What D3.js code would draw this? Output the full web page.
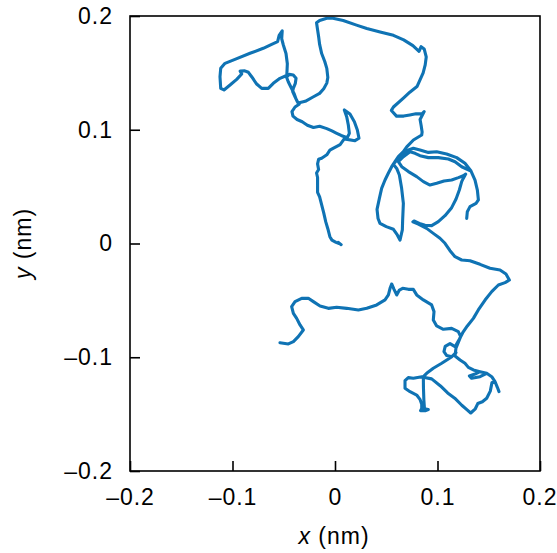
<!DOCTYPE html>
<html><head><meta charset="utf-8">
<script src="https://cdn.jsdelivr.net/npm/d3@7"></script>
<style>
html,body{margin:0;padding:0;background:#fff;}
svg{display:block;}
text{font-family:"Liberation Sans",Arial,Helvetica,sans-serif;fill:#000;}
</style></head>
<body>
<svg id="chart" width="557" height="553"></svg>
<script>
// tick values
const xTicks = [-0.2, -0.1, 0, 0.1, 0.2];
const yTicks = [-0.2, -0.1, 0, 0.1, 0.2];
const xDomain = [-0.2, 0.2];
const yDomain = [-0.2, 0.2];

// trajectory (x, y in nm), in order
const segOrigin = [[0.006,-0.001],[0.003,0.001],[0.004,0.000],[0.001,0.001],[-0.003,0.003],[-0.005,0.006],[-0.007,0.013],[-0.009,0.019],[-0.011,0.027],[-0.013,0.034],[-0.015,0.041],[-0.017,0.045],[-0.017,0.051],[-0.017,0.058],[-0.018,0.062],[-0.016,0.065],[-0.017,0.070],[-0.016,0.074],[-0.013,0.075],[-0.008,0.078],[-0.005,0.082],[-0.001,0.084],[0.005,0.087],[0.009,0.092]];
const segThinLoop = [[0.0195,0.0904],[0.0234,0.0925],[0.0218,0.0998],[0.0189,0.1071],[0.0146,0.1138],[0.0091,0.1174],[0.0114,0.1115],[0.013,0.1042],[0.014,0.0969],[0.012,0.093],[0.006,0.095]];
const segToJunction = [[0.0017,0.0969],[-0.003,0.099],[-0.008,0.101],[-0.015,0.103],[-0.021,0.102],[-0.027,0.104],[-0.032,0.107],[-0.037,0.109],[-0.041,0.112],[-0.042,0.116],[-0.039,0.120],[-0.035,0.1224]];
const segUpperLeft = [[-0.0368,0.1247],[-0.039,0.129],[-0.0413,0.1335],[-0.0407,0.1364],[-0.0387,0.1408],[-0.038,0.1452],[-0.0407,0.1481],[-0.0446,0.1487],[-0.0471,0.1466],[-0.0468,0.152],[-0.0465,0.158],[-0.0478,0.167],[-0.0504,0.1745],[-0.052,0.180],[-0.0515,0.187],[-0.0545,0.183],[-0.056,0.1775],[-0.0618,0.1751],[-0.070,0.1716],[-0.0829,0.1672],[-0.0976,0.1619],[-0.1073,0.1584],[-0.1115,0.154],[-0.1122,0.1466],[-0.1115,0.1364],[-0.1083,0.135],[-0.1024,0.1393],[-0.0959,0.1443],[-0.091,0.149],[-0.0925,0.1515],[-0.088,0.1518],[-0.0845,0.1505],[-0.0813,0.1466],[-0.0764,0.1402],[-0.0715,0.1364],[-0.0651,0.1364],[-0.0602,0.1408],[-0.0537,0.1452],[-0.0478,0.1475],[-0.0456,0.1422],[-0.0432,0.1378],[-0.040,0.132],[-0.038,0.127],[-0.036,0.1235]];
const segTopLoop = [[-0.029,0.125],[-0.021,0.129],[-0.015,0.132],[-0.011,0.136],[-0.008,0.141],[-0.007,0.146],[-0.008,0.154],[-0.010,0.160],[-0.013,0.167],[-0.015,0.175],[-0.016,0.182],[-0.017,0.188],[-0.018,0.194],[-0.015,0.196],[-0.008,0.198],[-0.002,0.198],[0.008,0.196],[0.021,0.192],[0.031,0.189],[0.044,0.186],[0.057,0.183],[0.067,0.179],[0.076,0.174],[0.082,0.169],[0.084,0.173],[0.087,0.171],[0.089,0.164],[0.088,0.157],[0.086,0.150],[0.080,0.138],[0.073,0.133],[0.067,0.128],[0.057,0.120],[0.055,0.117],[0.060,0.112],[0.067,0.112],[0.073,0.113],[0.079,0.114],[0.085,0.114],[0.087,0.116],[0.083,0.109],[0.084,0.104],[0.085,0.098],[0.0846,0.0954],[0.0765,0.091],[0.070,0.085],[0.0667,0.0807],[0.0618,0.0763],[0.0585,0.0719],[0.0553,0.0675]];
const segLeftOval = [[0.052,0.0617],[0.0488,0.0558],[0.0455,0.0485],[0.0433,0.0397],[0.041,0.030],[0.042,0.022],[0.0439,0.0177],[0.050,0.0148],[0.057,0.0125],[0.0608,0.0075],[0.0634,0.003],[0.0657,0.0119],[0.066,0.0207],[0.0667,0.0353],[0.065,0.0485],[0.0628,0.0602],[0.0602,0.066],[0.0569,0.0696]];
const segRightArcs = [[0.0618,0.0749],[0.0667,0.0793],[0.0716,0.0822],[0.0764,0.0837],[0.0829,0.0822],[0.0911,0.0801],[0.0992,0.0807],[0.1089,0.0787],[0.1187,0.0755],[0.1268,0.0705],[0.1327,0.0637],[0.1366,0.0558],[0.1389,0.047],[0.1399,0.0383],[0.1376,0.0353],[0.1317,0.0324],[0.1291,0.028],[0.1285,0.0221],[0.1291,0.028],[0.1317,0.0324],[0.1376,0.0353],[0.1399,0.0383],[0.1389,0.047],[0.1366,0.0558],[0.1327,0.0637],[0.1236,0.0675],[0.1171,0.0719],[0.1106,0.0743],[0.1008,0.0755],[0.0911,0.0755],[0.0829,0.0772],[0.0781,0.0793],[0.0732,0.0807],[0.0667,0.0763],[0.0618,0.072]];
const segMiddle = [[0.0651,0.0675],[0.0716,0.0632],[0.0797,0.0588],[0.0862,0.0544],[0.0927,0.0514],[0.0992,0.0529],[0.1064,0.0549],[0.1138,0.0558],[0.1204,0.0579],[0.1252,0.0596],[0.1275,0.061],[0.1250,0.057],[0.1236,0.0544],[0.1213,0.047],[0.1181,0.0391],[0.1138,0.0315],[0.1073,0.0245],[0.1008,0.0192],[0.0943,0.0157],[0.0878,0.0160],[0.0823,0.0177],[0.0771,0.0198],[0.0760,0.019],[0.0813,0.0171],[0.0894,0.0133],[0.0959,0.0089],[0.1024,0.0046],[0.1073,0.0002],[0.1122,-0.0063],[0.1171,-0.0116],[0.1236,-0.0145],[0.1317,-0.0151],[0.1415,-0.0183],[0.1512,-0.0218],[0.161,-0.0233],[0.1668,-0.0268],[0.1701,-0.0321],[0.1659,-0.0344],[0.1594,-0.0365],[0.1529,-0.0423],[0.1464,-0.0497],[0.1398,-0.0584],[0.135,-0.0658],[0.1291,-0.0725],[0.1246,-0.0784]];
const segLowerCluster = [[0.1213,-0.0842],[0.1171,-0.0907],[0.1122,-0.0880],[0.1075,-0.0905],[0.1063,-0.0950],[0.1090,-0.0985],[0.1140,-0.0995],[0.1180,-0.0960],[0.1140,-0.0995],[0.1041,-0.1053],[0.0959,-0.1097],[0.0894,-0.1141],[0.0862,-0.117],[0.0764,-0.1185],[0.0715,-0.1179],[0.0683,-0.1206],[0.0683,-0.1273],[0.0732,-0.1303],[0.0797,-0.1332],[0.0829,-0.137],[0.0846,-0.1414],[0.0846,-0.1449],[0.0835,-0.1470],[0.0880,-0.1470],[0.0910,-0.1460],[0.0873,-0.1453],[0.0867,-0.1376],[0.0863,-0.1268],[0.0862,-0.1175],[0.0943,-0.119],[0.1029,-0.1252],[0.1099,-0.1314],[0.1168,-0.136],[0.1237,-0.1422],[0.1289,-0.1463],[0.1324,-0.149],[0.1369,-0.1453],[0.1393,-0.1407],[0.1438,-0.1391],[0.148,-0.136],[0.1515,-0.1298],[0.1532,-0.1221],[0.1561,-0.1215],[0.1584,-0.1264],[0.160,-0.1302],[0.1584,-0.1264],[0.1561,-0.1215],[0.1529,-0.1171],[0.148,-0.1141],[0.1415,-0.1127],[0.1366,-0.1147],[0.1311,-0.1165],[0.1333,-0.1185],[0.1415,-0.1171],[0.148,-0.1141],[0.1415,-0.1127],[0.135,-0.1112],[0.1301,-0.1089],[0.1268,-0.1053],[0.122,-0.1024],[0.1171,-0.0989],[0.1180,-0.0920],[0.1226,-0.0819]];
const segLowerLine = [[0.1203,-0.0775],[0.1138,-0.0746],[0.1057,-0.0754],[0.0992,-0.0725],[0.0959,-0.0672],[0.0966,-0.0599],[0.0943,-0.054],[0.0862,-0.0496],[0.0797,-0.0452],[0.0764,-0.0403],[0.0716,-0.0403],[0.066,-0.0394],[0.0628,-0.0409],[0.0602,-0.0452],[0.0576,-0.0403],[0.0553,-0.0356],[0.0537,-0.0394],[0.0521,-0.0452],[0.0488,-0.0496],[0.0407,-0.054],[0.031,-0.057],[0.0228,-0.0584],[0.0114,-0.057],[0.0016,-0.0561],[-0.0065,-0.057],[-0.0146,-0.055],[-0.0211,-0.0511],[-0.026,-0.0482],[-0.0325,-0.0482],[-0.039,-0.0511],[-0.0423,-0.0555],[-0.0406,-0.0614],[-0.0374,-0.0658],[-0.0341,-0.0716],[-0.0309,-0.076],[-0.0358,-0.0819],[-0.0406,-0.0863],[-0.0455,-0.0883],[-0.0537,-0.0872]];

const trajectory = [].concat(segOrigin, segThinLoop, segToJunction, segUpperLeft, segTopLoop,
  segLeftOval, segRightArcs, segMiddle, segLowerCluster, segLowerLine);

const svg = d3.select("#chart");
const plot = {left:130, right:540, top:16, bottom:471};

const x = d3.scaleLinear().domain(xDomain).range([plot.left, plot.right]);
const y = d3.scaleLinear().domain(yDomain).range([plot.bottom, plot.top]);

const fmt = d => d < 0 ? "\u2013" + Math.abs(d) : (d === 0 ? "0" : String(d));

// trajectory line
const line = d3.line().x(d => x(d[0])).y(d => y(d[1]));
svg.append("path")
  .datum(trajectory)
  .attr("d", line)
  .attr("fill", "none")
  .attr("stroke", "#0f73b4")
  .attr("stroke-width", 3.1)
  .attr("stroke-linejoin", "round")
  .attr("stroke-linecap", "round");

// axes
const xAxis = svg.append("g")
  .attr("transform", `translate(0,${plot.bottom})`)
  .call(d3.axisBottom(x).tickValues(xTicks).tickFormat(fmt).tickSizeInner(-10).tickSizeOuter(0).tickPadding(18));
const yAxis = svg.append("g")
  .attr("transform", `translate(${plot.left},0)`)
  .call(d3.axisLeft(y).tickValues(yTicks).tickFormat(fmt).tickSizeInner(-10).tickSizeOuter(0).tickPadding(17));

[xAxis, yAxis].forEach(g => {
  g.select(".domain").remove();
  g.selectAll(".tick line").attr("stroke", "#000").attr("stroke-width", 1.6);
  g.selectAll(".tick text")
    .style("font-family", "'Liberation Sans', Arial, sans-serif")
    .style("font-size", "23px")
    .style("letter-spacing", "1px")
    .attr("fill", "#000");
});
// last x label sits flush with the right edge, as in the reference
xAxis.selectAll(".tick text").filter(d => d === 0.2).attr("text-anchor", "end").attr("x", 17);

// frame
svg.append("rect")
  .attr("x", plot.left).attr("y", plot.top)
  .attr("width", plot.right - plot.left).attr("height", plot.bottom - plot.top)
  .attr("fill", "none").attr("stroke", "#000").attr("stroke-width", 1.6);

// axis titles
const xt = svg.append("text")
  .attr("x", 334).attr("y", 544)
  .attr("text-anchor", "middle")
  .style("font-size", "23px").style("letter-spacing", "1px");
xt.append("tspan").style("font-style", "italic").text("x");
xt.append("tspan").text(" (nm)");

const yt = svg.append("text")
  .attr("transform", `translate(31,${(plot.top + plot.bottom) / 2}) rotate(-90)`)
  .attr("text-anchor", "middle")
  .style("font-size", "23px").style("letter-spacing", "1px");
yt.append("tspan").style("font-style", "italic").text("y");
yt.append("tspan").text(" (nm)");
</script>
</body></html>
